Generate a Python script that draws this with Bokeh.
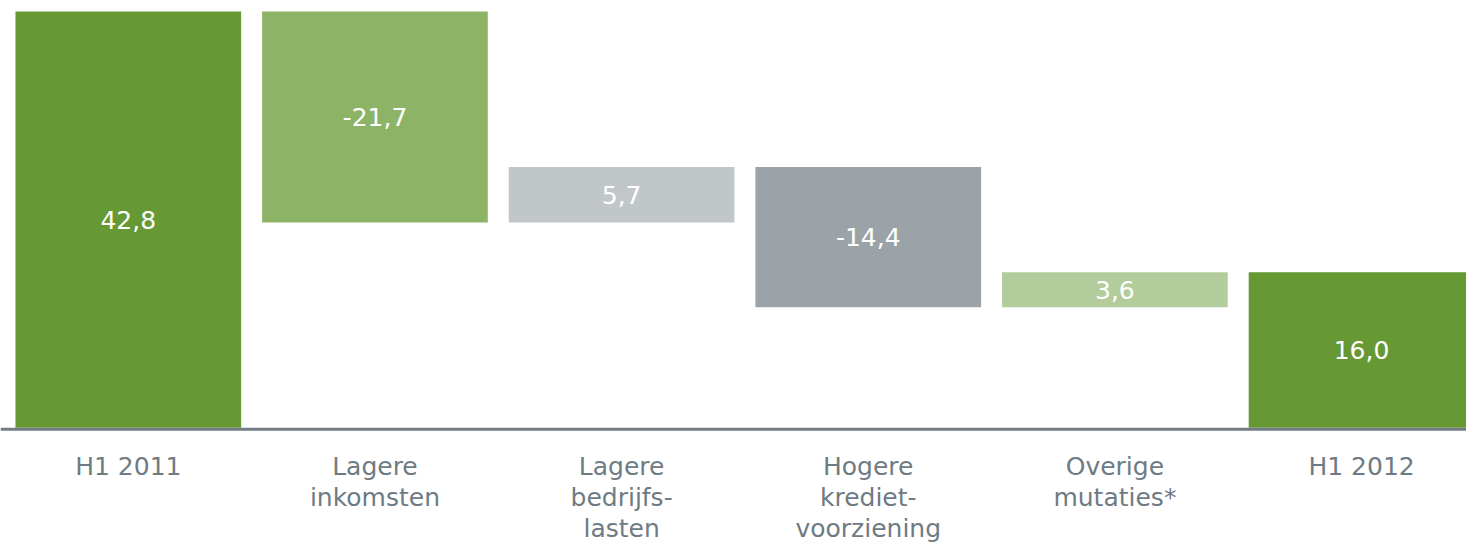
from bokeh.plotting import figure
from bokeh.models import ColumnDataSource, Span
from bokeh.core.properties import value
from bokeh.embed import file_html
from bokeh.resources import INLINE

categories = ["H1 2011", "Lagere\ninkomsten", "Lagere\nbedrijfs-\nlasten",
              "Hogere\nkrediet-\nvoorziening", "Overige\nmutaties*", "H1 2012"]
values = [42.8, -21.7, 5.7, -14.4, 3.6, 16.0]
is_total = [True, False, False, False, False, True]
colors = ["#669933", "#8db366", "#c1c6c9", "#9ca3a8", "#b3cc9b", "#669933"]

xs = list(range(len(categories)))
bottoms, tops = [], []
run = 0.0
for v, t in zip(values, is_total):
    if t:
        b, tp = 0.0, v
        run = v
    else:
        b, tp = min(run, run + v), max(run, run + v)
        run = run + v
    bottoms.append(b)
    tops.append(tp)
mids = [(b + t) / 2 for b, t in zip(bottoms, tops)]
labels = [f"{v:.1f}".replace(".", ",") for v in values]

W, H = 1466, 546
scale = 9.727          # px per unit
base_px = 427.3        # pixel row of y=0
step = 246.65          # px per category
c0 = 127.8             # pixel column of first category

y_end = base_px / scale
y_start = y_end - H / scale
x_start = -c0 / step
x_end = (W - c0) / step

src = ColumnDataSource(dict(x=xs, bottom=bottoms, top=tops, mid=mids,
                            color=colors, label=labels, cat=categories,
                            cy=[-2.45] * len(xs)))

p = figure(width=W, height=H, output_backend="svg", toolbar_location=None,
           x_range=(x_start, x_end), y_range=(y_start, y_end),
           min_border=0, outline_line_color=None)
p.axis.visible = False
p.grid.visible = False
p.background_fill_color = "white"
p.border_fill_color = "white"

p.vbar(x="x", width=0.915, bottom="bottom", top="top", color="color",
       line_color=None, source=src)

p.add_layout(Span(location=-0.16, dimension="width", line_color="#737d85",
                  line_width=3))

p.text(x="x", y="mid", text="label", source=src, text_color="white",
       text_font=value("DejaVu Sans"), text_font_size="25px",
       text_align="center", text_baseline="middle")

p.text(x="x", y="cy", text="cat", source=src, text_color="#6e7b84",
       text_font=value("DejaVu Sans"), text_font_size="25px",
       text_align="center", text_baseline="top", text_line_height=1.07)

open("out.html", "w").write(file_html(p, INLINE))
